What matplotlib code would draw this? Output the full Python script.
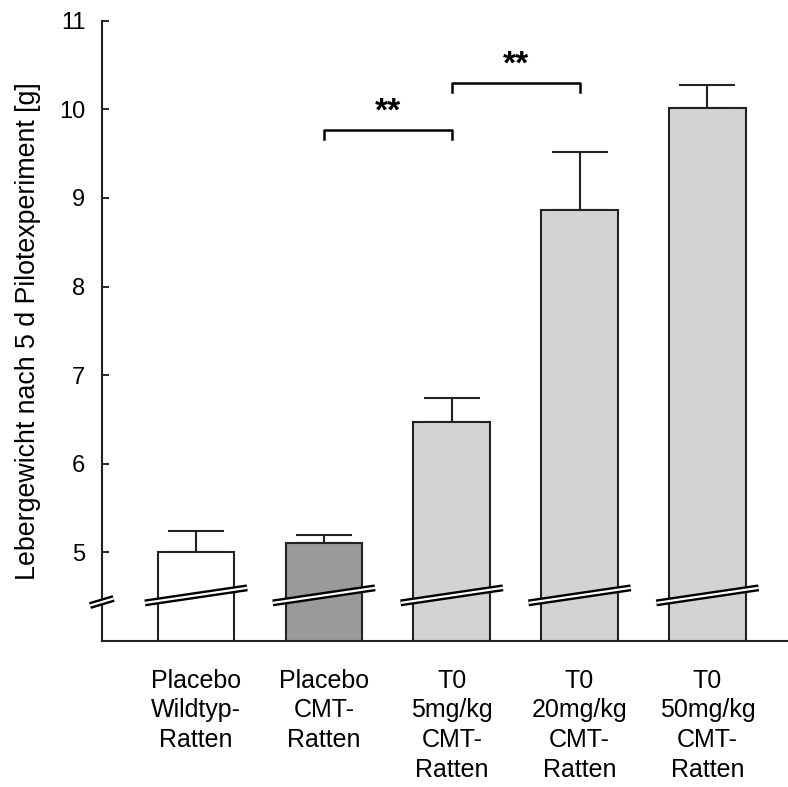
import numpy as np
import matplotlib.pyplot as plt

plt.rcParams['font.family'] = ['Liberation Sans', 'DejaVu Sans']

# data
groups = ["Placebo\nWildtyp-\nRatten", "Placebo\nCMT-\nRatten",
          "T0\n5mg/kg\nCMT-\nRatten", "T0\n20mg/kg\nCMT-\nRatten",
          "T0\n50mg/kg\nCMT-\nRatten"]
means = [5.00, 5.11, 6.47, 8.86, 10.01]
errors = [0.24, 0.09, 0.27, 0.66, 0.26]
colors = ["#ffffff", "#9a9a9a", "#d3d3d3", "#d3d3d3", "#d3d3d3"]
yticks = [5, 6, 7, 8, 9, 10, 11]
# significance brackets: (left bar, right bar, height, label)
brackets = [(1, 2, 9.77, "**"), (2, 3, 10.30, "**")]

fig = plt.figure(figsize=(7.88, 7.87), dpi=100)
ax = fig.add_axes([0.1294, 0.1855, 0.8706, 0.7882])

x = np.arange(len(groups))
ax.bar(x, means, width=0.6, bottom=0, color=colors, edgecolor="#222222",
       linewidth=1.5, zorder=2)
ax.errorbar(x, means, yerr=[np.zeros(len(errors)), errors], fmt="none",
            ecolor="#222222", elinewidth=1.5, capsize=20, capthick=1.5, zorder=1)

ax.set_ylim(4.0, 11.0)
ax.set_xlim(-0.736, 4.63)
ax.set_yticks(yticks)
ax.set_xticks(x)
ax.set_xticklabels(groups, fontsize=18, linespacing=1.3)
ax.tick_params(axis="y", direction="in", length=5, width=1.2, pad=12, labelsize=17)
ax.tick_params(axis="x", direction="in", length=5, width=1.2, pad=20)
ax.set_ylabel("Lebergewicht nach 5 d Pilotexperiment [g]", fontsize=19.3, labelpad=13)

for side in ["top", "right"]:
    ax.spines[side].set_visible(False)
for side in ["left", "bottom"]:
    ax.spines[side].set_linewidth(1.5)
    ax.spines[side].set_color("#222222")

# axis-break marks on the bars and on the y axis
def break_mark(x0, x1, y0, y1):
    ax.plot([x0, x1], [y0, y1], color="black", lw=5.0, solid_capstyle="butt",
            zorder=5, clip_on=False)
    ax.plot([x0, x1], [y0, y1], color="white", lw=1.6, solid_capstyle="butt",
            zorder=6, clip_on=False)

for xi in x:
    break_mark(xi - 0.4, xi + 0.4, 4.43, 4.60)
break_mark(-0.83, -0.645, 4.40, 4.48)

# significance brackets
for left, right, h, label in brackets:
    ax.plot([left, left, right, right], [h - 0.11, h, h, h - 0.11],
            color="black", lw=1.8, zorder=4)
    ax.text((left + right) / 2, h + 0.2, label, ha="center", va="center",
            fontsize=24, fontweight="bold")

fig.savefig("out.png", dpi=100)
